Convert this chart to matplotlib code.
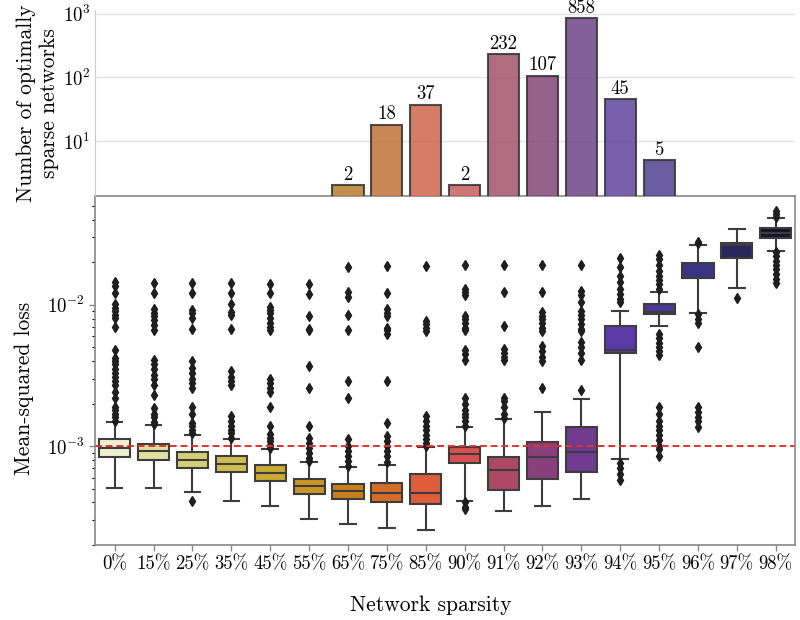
import numpy as np
import matplotlib
matplotlib.use("Agg")
import matplotlib.pyplot as plt
import seaborn as sns

plt.rcParams['font.family'] = 'serif'
plt.rcParams['font.serif'] = ['cmr10', 'DejaVu Serif']
plt.rcParams['mathtext.fontset'] = 'cm'
plt.rcParams['axes.formatter.use_mathtext'] = True

# sparsity levels
labels = ['0%', '15%', '25%', '35%', '45%', '55%', '65%', '75%', '85%',
          '90%', '91%', '92%', '93%', '94%', '95%', '96%', '97%', '98%']

# number of optimally sparse networks per level
counts = [0, 0, 0, 0, 0, 0, 2, 18, 37, 2, 232, 107, 858, 45, 5, 0, 0, 0]

# box statistics of the mean-squared loss
medians = [0.00097, 0.00093, 0.00080, 0.000745, 0.00065, 0.00052, 0.00048, 0.00047, 0.00047,
           0.00088, 0.00068, 0.00084, 0.00091, 0.0048, 0.0089, 0.0156, 0.0267, 0.0322]
q1s = [0.00084, 0.00080, 0.00070, 0.00066, 0.00057, 0.00046, 0.00042, 0.00040, 0.00039,
       0.00076, 0.00049, 0.00059, 0.00066, 0.0046, 0.0086, 0.0154, 0.0214, 0.0299]
q3s = [0.00112, 0.00104, 0.00091, 0.00085, 0.00074, 0.00059, 0.00054, 0.00055, 0.00064,
       0.00099, 0.00084, 0.00107, 0.00137, 0.0071, 0.0101, 0.0199, 0.0276, 0.0349]
whis_lo = [0.000506, 0.000506, 0.000475, 0.000412, 0.00038, 0.000305, 0.00028, 0.000263, 0.000256,
           0.00041, 0.00035, 0.00038, 0.00042, 0.00081, 0.0071, 0.0087, 0.0131, 0.0239]
whis_hi = [0.00148, 0.00141, 0.00120, 0.00112, 0.00096, 0.00077, 0.00071, 0.00074, 0.00099,
           0.00137, 0.00156, 0.00175, 0.00214, 0.0090, 0.0124, 0.0267, 0.0344, 0.0412]

fliers = [
    [0.0145, 0.0136, 0.0122, 0.0101, 0.0095, 0.0090, 0.0085, 0.0081, 0.0070, 0.0048, 0.0042,
     0.0040, 0.0038, 0.0035, 0.0033, 0.0031, 0.0029, 0.0027, 0.0024, 0.0022, 0.0019, 0.0018,
     0.0017, 0.0016, 0.0015],
    [0.0143, 0.0122, 0.0094, 0.0088, 0.0083, 0.0078, 0.0072, 0.0066, 0.0041, 0.0038, 0.0035,
     0.0032, 0.0030, 0.0027, 0.0023, 0.00186, 0.0017, 0.0016, 0.00149, 0.00143],
    [0.0143, 0.0121, 0.0092, 0.0087, 0.0081, 0.0068, 0.0040, 0.0036, 0.0033, 0.0030, 0.0028,
     0.0026, 0.0019, 0.0017, 0.00146, 0.00138, 0.0013, 0.00123, 0.000412],
    [0.0143, 0.0122, 0.0102, 0.0089, 0.0085, 0.0067, 0.0034, 0.0031, 0.0029, 0.0027, 0.00163,
     0.0015, 0.0014, 0.0013, 0.00123, 0.00115],
    [0.0141, 0.0122, 0.0097, 0.0092, 0.0087, 0.0081, 0.0075, 0.0070, 0.0066, 0.0030, 0.0028,
     0.0026, 0.0024, 0.0019, 0.00139, 0.00122, 0.00115, 0.00108, 0.00102, 0.00097],
    [0.0140, 0.0120, 0.0084, 0.0068, 0.0066, 0.0037, 0.0026, 0.00139, 0.00115, 0.00105,
     0.00097, 0.0009, 0.00083, 0.00078],
    [0.0185, 0.0123, 0.0113, 0.0085, 0.0066, 0.0029, 0.0022, 0.00112, 0.0010, 0.00093,
     0.00085, 0.00078, 0.00072],
    [0.0188, 0.0121, 0.0094, 0.0088, 0.0084, 0.0069, 0.0066, 0.0062, 0.0029, 0.00146,
     0.00118, 0.00108, 0.0010, 0.00092, 0.00085, 0.00077],
    [0.0188, 0.0077, 0.0073, 0.0069, 0.0065, 0.00163, 0.0015, 0.0014, 0.0013, 0.0012,
     0.00113, 0.00106, 0.0010],
    [0.019, 0.013, 0.0124, 0.0117, 0.0084, 0.0079, 0.0074, 0.0069, 0.0066, 0.0048, 0.0045,
     0.0041, 0.0022, 0.0020, 0.0018, 0.0017, 0.0016, 0.0015, 0.0014, 0.0004, 0.00037, 0.00036],
    [0.019, 0.0124, 0.0071, 0.0049, 0.0046, 0.0043, 0.0041, 0.0022, 0.0021, 0.0019,
     0.00168, 0.00159],
    [0.019, 0.0124, 0.0089, 0.0084, 0.0079, 0.0074, 0.0069, 0.0065, 0.0051, 0.0047,
     0.0043, 0.0040, 0.0026],
    [0.019, 0.0126, 0.0117, 0.0105, 0.0091, 0.0085, 0.0079, 0.0073, 0.0068, 0.0065,
     0.0055, 0.0050, 0.0046, 0.0041, 0.0025],
    [0.0216, 0.0185, 0.016, 0.0145, 0.013, 0.012, 0.011, 0.0105, 0.00076, 0.0007,
     0.00064, 0.00058],
    [0.0225, 0.021, 0.019, 0.0175, 0.016, 0.015, 0.014, 0.013, 0.0062, 0.0058, 0.0054,
     0.005, 0.0047, 0.0044, 0.0019, 0.0017, 0.0015, 0.0014, 0.0013, 0.0012, 0.0011,
     0.0010, 0.00095, 0.00085],
    [0.028, 0.0272, 0.0086, 0.0079, 0.0074, 0.005, 0.0019, 0.00175, 0.0016, 0.0015, 0.00136],
    [0.0112],
    [0.0465, 0.044, 0.042, 0.0236, 0.022, 0.0205, 0.019, 0.0178, 0.0165, 0.0152, 0.0142],
]

threshold = 1e-3

pal = sns.color_palette("CMRmap_r", len(labels))
box_cols = [sns.desaturate(c, 0.75) for c in pal]
bar_cols = [sns.desaturate(c, 0.6) for c in pal]

fig = plt.figure(figsize=(8, 6.2), dpi=100)
ax = fig.add_axes([0.119, 0.121, 0.875, 0.563])
ax_top = fig.add_axes([0.119, 0.684, 0.875, 0.30], sharex=ax)
ax_top.patch.set_alpha(0)

pos = np.arange(len(labels))
stats = []
for i in range(len(labels)):
    stats.append(dict(med=medians[i], q1=q1s[i], q3=q3s[i],
                      whislo=whis_lo[i], whishi=whis_hi[i], fliers=fliers[i]))

edge = '#3d3d3d'
bp = ax.bxp(stats, positions=pos, widths=0.8, patch_artist=True, capwidths=0.4,
            boxprops=dict(edgecolor=edge, linewidth=1.5),
            medianprops=dict(color=edge, linewidth=1.5),
            whiskerprops=dict(color=edge, linewidth=1.5),
            capprops=dict(color=edge, linewidth=1.5),
            flierprops=dict(marker='d', markersize=5, markerfacecolor='#1e1e1e',
                            markeredgecolor='#1e1e1e', linestyle='none'))
for patch, c in zip(bp['boxes'], box_cols):
    patch.set_facecolor(c)

ax.axhline(threshold, color='#e8302a', linestyle='--', linewidth=1.4, dashes=(3.5, 2))
ax.set_yscale('log')
ax.set_ylim(2.0e-4, 0.059)
ax.set_xlim(-0.5, len(labels) - 0.5)
ax.set_xticks(pos)
ax.set_xticklabels(labels)
for s in ax.spines.values():
    s.set_color('#888888')
    s.set_linewidth(1.2)
ax.tick_params(axis='both', colors='#888888', labelcolor='black', labelsize=13.5)
ax.tick_params(axis='x', length=4, width=1)
ax.tick_params(axis='y', which='major', length=4, width=1)
ax.tick_params(axis='y', which='minor', length=2.5, width=0.8)
ax.set_xlabel('Network sparsity', fontsize=15.5, labelpad=16)
ax.xaxis.set_label_coords(0.48, -0.145)
ax.set_ylabel('Mean-squared loss', fontsize=15.5)
ax.yaxis.set_label_coords(-0.088, 0.45)

# top panel: counts of optimally sparse networks
nz = [i for i in range(len(counts)) if counts[i] > 0]
bars = ax_top.bar([pos[i] for i in nz], [counts[i] for i in nz], width=0.8,
                  color=[bar_cols[i] for i in nz], alpha=0.85,
                  edgecolor='#333333', linewidth=1.5)
ax_top.set_yscale('log')
ax_top.set_ylim(1.37, 1150)
ax_top.bar_label(bars, labels=[str(counts[i]) for i in nz], fontsize=13.5, padding=1)
ax_top.set_yticks([10, 100, 1000])
ax_top.yaxis.set_minor_locator(matplotlib.ticker.NullLocator())
ax_top.grid(axis='y', color='#e3e3e3', linewidth=1.0)
ax_top.set_axisbelow(True)
for k in ['top', 'right', 'bottom']:
    ax_top.spines[k].set_visible(False)
ax_top.spines['left'].set_color('#cccccc')
ax_top.tick_params(axis='y', length=0, labelsize=13.5)
ax_top.tick_params(axis='x', bottom=False, labelbottom=False)
ax_top.set_ylabel('Number of optimally\nsparse networks', fontsize=15.5, linespacing=1.2)
ax_top.yaxis.set_label_coords(-0.052, 0.5)

fig.savefig('out.png', dpi=100)
